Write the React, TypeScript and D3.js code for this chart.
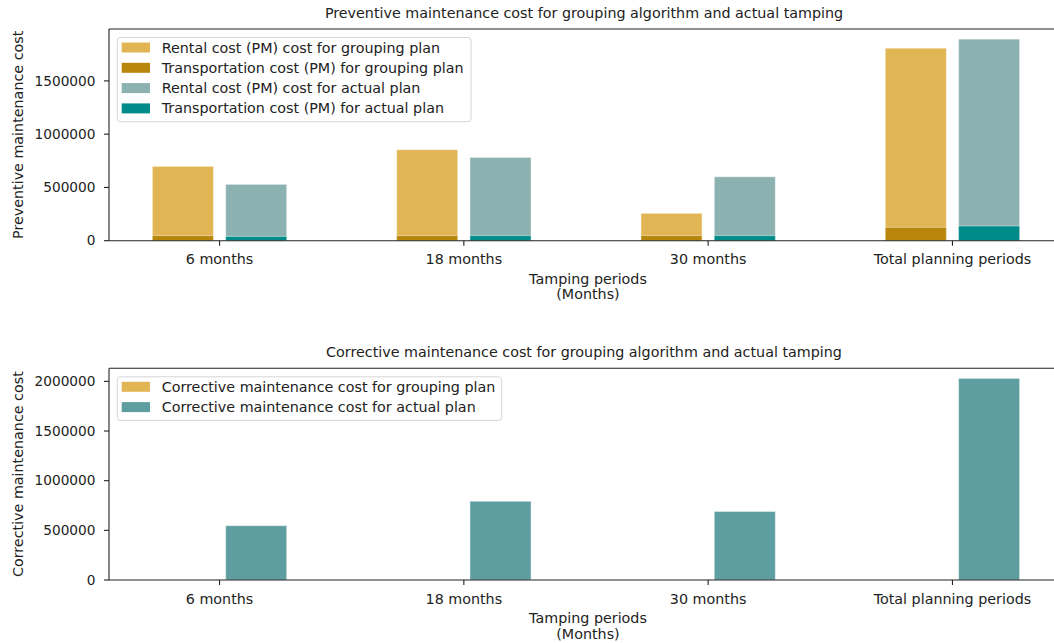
import React, { useEffect } from "react";
import * as d3 from "d3";

const categories = ["6 months", "18 months", "30 months", "Total planning periods"];
const rentalGrouping = [698000, 854000, 257000, 1807000];
const transportGrouping = [48000, 48000, 48000, 126000];
const rentalActual = [529000, 782000, 600000, 1892000];
const transportActual = [40000, 48000, 48000, 138000];
const correctiveGrouping = [0, 0, 0, 0];
const correctiveActual = [547000, 793000, 690000, 2030000];
const topTicks = [0, 500000, 1000000, 1500000];
const bottomTicks = [0, 500000, 1000000, 1500000, 2000000];

const C_RENT_G = "#E1B554";
const C_TRANS_G = "#B8860B";
const C_RENT_A = "#8BB2B1";
const C_TRANS_A = "#008B8B";
const C_CORR_G = "#E1B554";
const C_CORR_A = "#5F9EA0";

const FONT = "'DejaVu Sans', sans-serif";
const FS = 14.3;
const FS_NUM = 13.7;
const BW = 0.25;
const OFF = 0.15;

const x = d3.scaleLinear().domain([-0.4525, 3.4525]).range([109, 1063]);

type Series = { values: number[]; color: string; offset: number };

function Panel(props: {
  top: number;
  bottom: number;
  ymax: number;
  ticks: number[];
  title: string;
  ylabel: string;
  series: Series[];
  legend: { label: string; color: string }[];
  legendWidth: number;
}) {
  const { top, bottom, ymax, ticks, title, ylabel, series, legend, legendWidth } = props;
  const y = d3.scaleLinear().domain([0, ymax]).range([bottom, top]);
  const left = x.range()[0];
  const right = x.range()[1];
  const bw = x(BW) - x(0);
  const rowH = 20.3;
  const legTop = top + 8.5;
  const legH = legend.length * rowH + 3;
  return (
    <g>
      <text x={584} y={top - 11} textAnchor="middle" fontSize={FS} fontFamily={FONT} fill="#222">
        {title}
      </text>
      {series.map((s, si) =>
        s.values.map((v, i) => (
          <rect
            key={si + "-" + i}
            x={x(i + s.offset) - bw / 2}
            y={y(v)}
            width={bw}
            height={Math.max(0, y(0) - y(v))}
            fill={s.color}
            stroke="#ffffff"
            strokeOpacity={0.45}
            strokeWidth={1}
          />
        ))
      )}
      <line x1={left} x2={right} y1={top} y2={top} stroke="#222" strokeWidth={1.1} />
      <line x1={left} x2={right} y1={bottom} y2={bottom} stroke="#222" strokeWidth={1.1} />
      <line x1={left} x2={left} y1={top} y2={bottom} stroke="#222" strokeWidth={1.1} />
      {ticks.map((t) => (
        <g key={t}>
          <line x1={left - 5} x2={left} y1={y(t)} y2={y(t)} stroke="#222" strokeWidth={1.1} />
          <text x={left - 13.5} y={y(t)} dy="0.35em" textAnchor="end" fontSize={FS_NUM} fontFamily={FONT} fill="#222">
            {t}
          </text>
        </g>
      ))}
      {categories.map((c, i) => (
        <g key={c}>
          <line x1={x(i)} x2={x(i)} y1={bottom} y2={bottom + 5} stroke="#222" strokeWidth={1.1} />
          <text x={x(i)} y={bottom + 23.5} textAnchor="middle" fontSize={FS} fontFamily={FONT} fill="#222">
            {c}
          </text>
        </g>
      ))}
      <text x={588} y={bottom + 43} textAnchor="middle" fontSize={FS} fontFamily={FONT} fill="#222">
        Tamping periods
      </text>
      <text x={588} y={bottom + 58.5} textAnchor="middle" fontSize={FS} fontFamily={FONT} fill="#222">
        (Months)
      </text>
      <text
        transform={`translate(${23},${(top + bottom) / 2}) rotate(-90)`}
        textAnchor="middle"
        fontSize={FS}
        fontFamily={FONT}
        fill="#222"
      >
        {ylabel}
      </text>
      <rect x={117.3} y={legTop} width={legendWidth} height={legH} rx={3} fill="#ffffff" fillOpacity={0.8} stroke="#d6d6d6" strokeWidth={1} />
      {legend.map((l, i) => (
        <g key={l.label}>
          <rect x={121.7} y={legTop + 5 + i * rowH} width={28.3} height={10} fill={l.color} />
          <text x={161.7} y={legTop + 10 + i * rowH} dy="0.35em" fontSize={FS} fontFamily={FONT} fill="#222">
            {l.label}
          </text>
        </g>
      ))}
    </g>
  );
}

export default function App() {
  useEffect(() => {
    document.body.style.margin = "0";
  }, []);
  return (
    <svg width={1054} height={643} style={{ display: "block", background: "#fff" }}>
      <Panel
        top={29}
        bottom={240.7}
        ymax={1987000}
        ticks={topTicks}
        title="Preventive maintenance cost for grouping algorithm and actual tamping"
        ylabel="Preventive maintenance cost"
        series={[
          { values: rentalGrouping, color: C_RENT_G, offset: -OFF },
          { values: transportGrouping, color: C_TRANS_G, offset: -OFF },
          { values: rentalActual, color: C_RENT_A, offset: OFF },
          { values: transportActual, color: C_TRANS_A, offset: OFF },
        ]}
        legend={[
          { label: "Rental cost (PM) cost for grouping plan", color: C_RENT_G },
          { label: "Transportation cost (PM) for grouping plan", color: C_TRANS_G },
          { label: "Rental cost (PM) cost for actual plan", color: C_RENT_A },
          { label: "Transportation cost (PM) for actual plan", color: C_TRANS_A },
        ]}
        legendWidth={353.7}
      />
      <Panel
        top={368.3}
        bottom={580}
        ymax={2131500}
        ticks={bottomTicks}
        title="Corrective maintenance cost for grouping algorithm and actual tamping"
        ylabel="Corrective maintenance cost"
        series={[
          { values: correctiveGrouping, color: C_CORR_G, offset: -OFF },
          { values: correctiveActual, color: C_CORR_A, offset: OFF },
        ]}
        legend={[
          { label: "Corrective maintenance cost for grouping plan", color: C_CORR_G },
          { label: "Corrective maintenance cost for actual plan", color: C_CORR_A },
        ]}
        legendWidth={384.4}
      />
    </svg>
  );
}
